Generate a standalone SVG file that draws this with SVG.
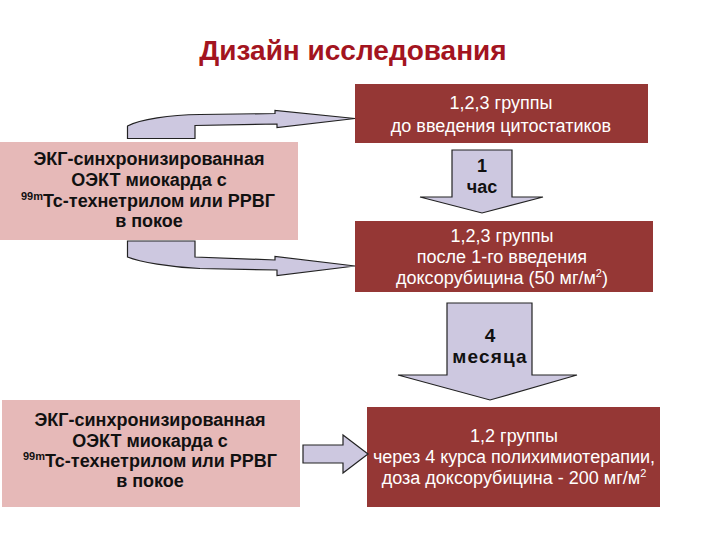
<svg xmlns="http://www.w3.org/2000/svg" width="720" height="540" viewBox="0 0 720 540">
<style>
.title{font-family:"Liberation Sans",Arial,sans-serif;font-weight:bold;font-size:28px;fill:#a31420}
.dark{fill:#953735}
.pink{fill:#e6b9b8}
.wt{font-family:"Liberation Sans",Arial,sans-serif;font-size:18px;fill:#ffffff;text-anchor:middle}
.bt{font-family:"Liberation Sans",Arial,sans-serif;font-weight:bold;font-size:18px;fill:#111111;text-anchor:middle}
.sup{font-size:11px}
.arr{fill:#cdc8e0;stroke:#222222;stroke-width:1.2;stroke-linejoin:miter}
.at{font-family:"Liberation Sans",Arial,sans-serif;font-weight:bold;fill:#111111;text-anchor:middle}
</style>
<rect width="720" height="540" fill="#ffffff"/>
<text class="title" x="353" y="60" text-anchor="middle">Дизайн исследования</text>

<g id="left1">
<rect class="pink" x="0" y="142" width="298" height="98"/>
<text class="bt" x="149" y="165">ЭКГ-синхронизированная</text>
<text class="bt" x="149" y="186">ОЭКТ миокарда с</text>
<text class="bt" x="148" y="207"><tspan class="sup" dy="-7">99m</tspan><tspan dy="7">Тс-технетрилом или РРВГ</tspan></text>
<text class="bt" x="149" y="227">в покое</text>
</g>

<g id="left2">
<rect class="pink" x="2" y="400" width="298" height="107"/>
<text class="bt" x="150" y="426">ЭКГ-синхронизированная</text>
<text class="bt" x="150" y="447">ОЭКТ миокарда с</text>
<text class="bt" x="150" y="467"><tspan class="sup" dy="-7">99m</tspan><tspan dy="7">Тс-технетрилом или РРВГ</tspan></text>
<text class="bt" x="150" y="487">в покое</text>
</g>

<g id="box1">
<rect class="dark" x="355" y="84" width="293" height="59"/>
<text class="wt" x="501" y="109">1,2,3 группы</text>
<text class="wt" x="501" y="132">до введения цитостатиков</text>
</g>

<g id="box2">
<rect class="dark" x="355" y="221" width="298" height="71"/>
<text class="wt" x="502" y="242">1,2,3 группы</text>
<text class="wt" x="502" y="263">после 1-го введения</text>
<text class="wt" x="502" y="284">доксорубицина (50 мг/м<tspan class="sup" dy="-7">2</tspan><tspan dy="7">)</tspan></text>
</g>

<g id="box3">
<rect class="dark" x="367" y="407" width="293" height="100"/>
<text class="wt" x="514" y="442">1,2 группы</text>
<text class="wt" x="514" y="463">через 4 курса полихимиотерапии,</text>
<text class="wt" x="514" y="484">доза доксорубицина - 200 мг/м<tspan class="sup" dy="-7">2</tspan></text>
</g>

<g id="connectors">
<path class="arr" d="M127.5,138.5 L127.5,126 C140,119 170,115 200,114.5 L275,113.5 L275,110.5 L355,118.5 L277,127.5 L277,124 L195,125.5 L195,138.5 Z"/>
<path class="arr" d="M127.5,241 L195,241 L195,257 L275,260 L275,256.5 L355,266 L277,275.5 L277,270 L200,268.5 C170,267 140,262 127.5,257 Z"/>
<path class="arr" d="M452,150 L512,150 L512,197 L543,197 L482,213 L420,197 L452,197 Z"/>
<text class="at" x="482" y="172" font-size="18">1</text>
<text class="at" x="482" y="193" font-size="18">час</text>
<path class="arr" d="M447,303 L532,303 L532,375 L577,375 L490,400 L398,375 L447,375 Z"/>
<text class="at" x="490" y="342" font-size="19">4</text>
<text class="at" x="490" y="363" font-size="19" letter-spacing="1.2">месяца</text>
<path class="arr" d="M303,445 L343,445 L343,435 L368,454 L343,473 L343,463 L303,463 Z"/>
</g>
</svg>
